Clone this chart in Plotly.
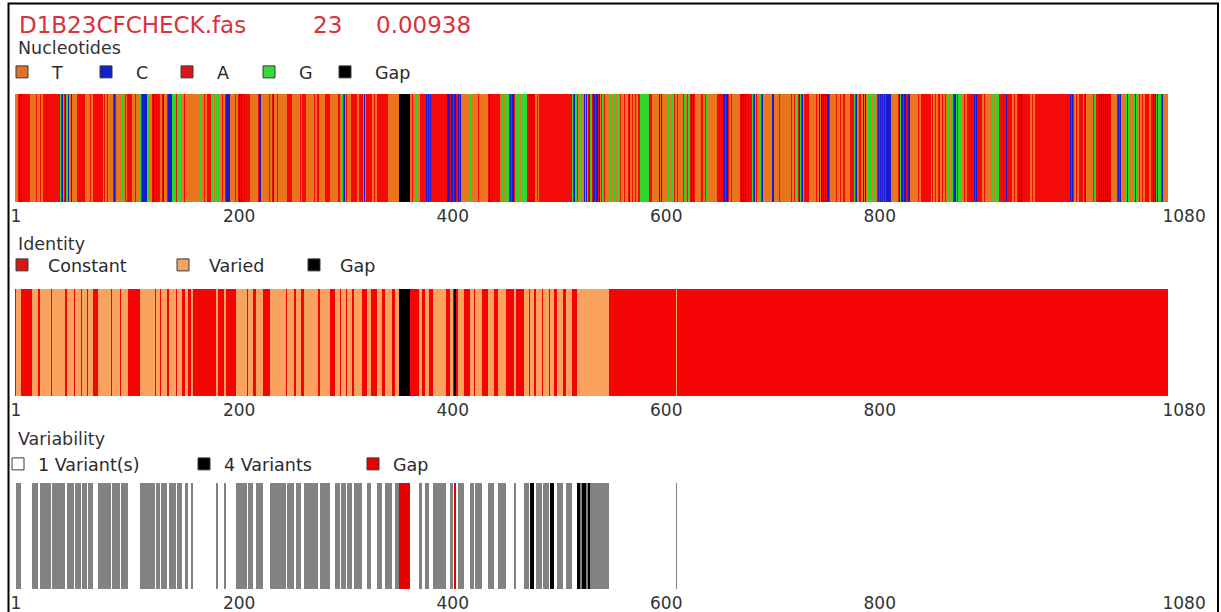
import plotly.graph_objects as go

# ---------------- data ----------------
N_SITES = 1080
file_name = "D1B23CFCHECK.fas"
n_sequences = "23"
diversity = "0.00938"

tick_vals = [1, 200, 400, 600, 800, 1080]
tick_text = ["1", "200", "400", "600", "800", "1080"]

# Nucleotide track: segment start site and the base motif repeated inside it
nuc_seg_start = [
    1, 4, 9, 15, 20, 27, 40, 43, 50, 54, 59, 64, 67, 69, 74, 79, 83, 88, 93, 96,
    102, 106, 111, 115, 118, 121, 125, 129, 132, 137, 139, 141, 144, 148, 151, 153, 157, 162, 168, 174,
    177, 182, 185, 193, 199, 202, 205, 210, 214, 221, 224, 228, 232, 237, 242, 244, 249, 256, 260, 266,
    270, 274, 279, 284, 286, 291, 296, 299, 302, 307, 312, 316, 321, 324, 327, 330, 335, 341, 345, 350,
    361, 371, 375, 380, 385, 391, 401, 406, 415, 419, 433, 438, 443, 446, 455, 460, 464, 469, 476, 481,
    488, 492, 523, 528, 533, 537, 542, 549, 555, 567, 574, 577, 586, 595, 598, 603, 608, 611, 617, 622,
    626, 633, 638, 643, 650, 659, 664, 670, 675, 680, 686, 691, 696, 699, 703, 710, 712, 715, 720, 726,
    733, 741, 745, 750, 753, 757, 764, 768, 773, 778, 783, 787, 790, 794, 799, 808, 817, 822, 827, 831,
    839, 845, 850, 855, 859, 864, 873, 879, 884, 888, 893, 898, 902, 907, 911, 916, 923, 928, 930, 935,
    940, 945, 952, 956, 967, 972, 977, 982, 988, 993, 998, 1001, 1004, 1010, 1015, 1028, 1033, 1037, 1042, 1045,
    1049, 1052, 1059, 1063, 1066, 1070, 1073, 1076,
]
nuc_seg_motif = [
    "T", "AC", "A", "T", "TAG", "A", "A", "GAC", "TC", "T", "A", "A", "T", "TTA", "A", "A", "TAG", "T", "AC", "TTG",
    "TTA", "A", "TTA", "T", "GAC", "C", "GGT", "AC", "A", "TTG", "AC", "TTA", "C", "G", "GAC", "G", "TTA", "T", "TTG", "GGT",
    "TAG", "A", "GGT", "TTA", "C", "T", "TTA", "AC", "A", "T", "TTG", "GAC", "T", "TTA", "AC", "TTA", "T", "A", "T", "TTA",
    "A", "T", "TTA", "A", "T", "A", "T", "TTG", "TTA", "GAC", "T", "A", "TTA", "A", "TC", "A", "TTA", "A", "A", "T",
    "-", "TTA", "TTG", "A", "AC", "A", "A", "CCA", "AC", "TTG", "TTA", "TG", "GAC", "A", "TTG", "TG", "AC", "GGT", "G", "AC",
    "TTA", "A", "GAC", "TTG", "TC", "GAC", "CCA", "TAG", "TTTG", "TAG", "GAC", "TTA", "GGGT", "A", "T", "TC", "T", "TTG", "TAG", "T",
    "TAG", "AC", "T", "TAG", "TG", "A", "CCA", "TTA", "T", "AC", "A", "GAC", "T", "GAC", "T", "C", "T", "TTA", "T", "TTA",
    "GAC", "A", "T", "TAG", "TC", "AC", "T", "TTA", "TAG", "T", "A", "GAC", "TTA", "TC", "GGT", "AC", "C", "TG", "GAC", "CCA",
    "TG", "TTA", "A", "A", "TAG", "TTA", "TTG", "GAC", "G", "TTA", "A", "AC", "A", "TTA", "TTG", "GGT", "A", "AC", "A", "TTA",
    "AC", "A", "TTA", "A", "A", "A", "A", "A", "AC", "TTA", "A", "GAC", "T", "TAG", "AC", "T", "AC", "T", "GC", "T",
    "GC", "TTA", "A", "TTA", "AC", "GC", "GAC", "T",
]
nuc_labels = ["T", "C", "A", "G", "Gap"]
nuc_symbols = ["T", "C", "A", "G", "-"]
nuc_colors = ["#E8741E", "#1A1AD0", "#F50A0A", "#2CD82C", "#000000"]
nuc_legend_colors = ["#E0702A", "#1020C8", "#D81818", "#36DC36", "#000000"]

# Variability track: runs of non-constant sites (first, last, number of variants; 0 = gap)
var_first = [2, 17, 24, 36, 50, 57, 64, 69, 79, 92, 100, 118, 133, 138, 145, 153, 160, 166, 189, 197,
             208, 219, 227, 240, 256, 264, 272, 287, 301, 306, 312, 319, 331, 340, 348, 357, 361, 379, 385, 393,
             408, 412, 416, 427, 432, 444, 453, 468, 478, 483, 489, 496, 502, 509, 517, 527, 530, 532, 536, 538,
             540, 620]
var_last = [6, 22, 34, 47, 55, 62, 67, 73, 90, 98, 106, 131, 136, 142, 151, 156, 162, 167, 190, 198,
            217, 223, 232, 254, 261, 268, 284, 295, 304, 310, 316, 325, 333, 344, 353, 360, 370, 381, 388, 404,
            410, 413, 421, 430, 437, 449, 460, 469, 481, 486, 494, 500, 505, 513, 522, 529, 531, 535, 537, 539,
            556, 620]
var_count = [2, 2, 2, 2, 2, 2, 2, 2, 2, 2, 2, 2, 2, 2, 2, 2, 2, 2, 2, 2,
             2, 2, 2, 2, 2, 2, 2, 2, 2, 2, 2, 2, 2, 2, 2, 2, 0, 2, 2, 2,
             2, 0, 2, 2, 2, 2, 2, 2, 2, 4, 2, 2, 4, 2, 2, 4, 2, 4, 2, 4,
             2, 2]

id_labels = ["Constant", "Varied", "Gap"]
id_colors = ["#F40404", "#FAA35E", "#000000"]
id_legend_colors = ["#D81818", "#F4A460", "#000000"]

var_labels = ["1 Variant(s)", "2 Variants", "4 Variants", "Gap"]
var_colors = ["#FFFFFF", "#828282", "#000000", "#E60000"]
var_in_legend = [True, False, True, True]

# ---------------- derive per-site tracks ----------------
sites = list(range(1, N_SITES + 1))

seq = []
for i, (s, m) in enumerate(zip(nuc_seg_start, nuc_seg_motif)):
    e = nuc_seg_start[i + 1] - 1 if i + 1 < len(nuc_seg_start) else N_SITES
    for k in range(e - s + 1):
        seq.append(m[k % len(m)])
nuc_codes = [nuc_symbols.index(b) for b in seq]

variants = [1] * N_SITES
for a, b, c in zip(var_first, var_last, var_count):
    for p in range(a, b + 1):
        variants[p - 1] = c
var_code_map = {1: 0, 2: 1, 4: 2, 0: 3}
var_codes = [var_code_map[v] for v in variants]
id_codes = [2 if v == 0 else (0 if v == 1 else 1) for v in variants]


def discrete_scale(colors):
    n = len(colors)
    cs = []
    for i, c in enumerate(colors):
        cs.append([i / n, c])
        cs.append([(i + 1) / n, c])
    return cs


# ---------------- layout helpers (pixel -> paper) ----------------
W, H = 1221, 612
FONT = "DejaVu Sans"


def fx(px):
    return px / W


def fy(py):
    return 1 - py / H


band_x = [fx(15), fx(1168)]
bands = [(94, 202), (289, 396), (483, 589)]

fig = go.Figure()

tracks = [
    (nuc_codes, nuc_colors),
    (id_codes, id_colors),
    (var_codes, var_colors),
]
for i, (codes, colors) in enumerate(tracks):
    sfx = "" if i == 0 else str(i + 1)
    fig.add_trace(go.Heatmap(
        x=sites, y=[0], z=[codes],
        colorscale=discrete_scale(colors), zmin=-0.5, zmax=len(colors) - 0.5,
        showscale=False, hoverinfo="skip", xaxis="x" + sfx, yaxis="y" + sfx,
    ))

# legend entries
nuc_lw = [19, 16, 17, 11, None]
for lab, col, w in zip(nuc_labels, nuc_legend_colors, nuc_lw):
    fig.add_trace(go.Scatter(
        x=[None], y=[None], mode="markers", name=lab, legend="legend",
        marker=dict(symbol="square", size=12, color=col, line=dict(color="#3a3a3a", width=1)),
        legendwidth=w, xaxis="x", yaxis="y",
    ))
id_lw = [104, 74, None]
for lab, col, w in zip(id_labels, id_legend_colors, id_lw):
    fig.add_trace(go.Scatter(
        x=[None], y=[None], mode="markers", name=lab, legend="legend2",
        marker=dict(symbol="square", size=12, color=col, line=dict(color="#3a3a3a", width=1)),
        legendwidth=w, xaxis="x2", yaxis="y2",
    ))
var_lw = {"1 Variant(s)": 141, "4 Variants": 124, "Gap": None}
for lab, col, show in zip(var_labels, var_colors, var_in_legend):
    if not show:
        continue
    fig.add_trace(go.Scatter(
        x=[None], y=[None], mode="markers", name=lab, legend="legend3",
        marker=dict(symbol="square", size=12, color=col, line=dict(color="#3a3a3a", width=1)),
        legendwidth=var_lw[lab], xaxis="x3", yaxis="y3",
    ))

axis_common = dict(
    range=[0.5, N_SITES + 0.5], tickmode="array", tickvals=tick_vals, ticktext=tick_text,
    ticks="", showgrid=False, zeroline=False, showline=False,
    ticklabelposition="outside right", ticklabelshift=-5, ticklabelstandoff=2,
    tickfont=dict(family=FONT, size=17, color="#333333"), fixedrange=True,
)
layout_axes = {}
for i, (t, b) in enumerate(bands):
    sfx = "" if i == 0 else str(i + 1)
    layout_axes["xaxis" + sfx] = dict(domain=band_x, anchor="y" + sfx, **axis_common)
    layout_axes["yaxis" + sfx] = dict(domain=[fy(b), fy(t)], anchor="x" + sfx, range=[-0.5, 0.5],
                                      visible=False, fixedrange=True)

leg_font = dict(family=FONT, size=17.5, color="#2a2a2a")


def legend_at(x_px, y_px, iw):
    return dict(orientation="h", x=fx(x_px), y=fy(y_px), xanchor="left", yanchor="middle",
                itemwidth=iw, font=leg_font, bgcolor="rgba(0,0,0,0)", borderwidth=0,
                traceorder="normal", itemclick=False, itemdoubleclick=False)


title_font = dict(family=FONT, size=23, color="#D8323C")
annotations = [
    dict(text=file_name, x=fx(17), y=fy(25), xref="paper", yref="paper", xanchor="left",
         yanchor="middle", showarrow=False, font=title_font),
    dict(text=n_sequences, x=fx(311), y=fy(25), xref="paper", yref="paper", xanchor="left",
         yanchor="middle", showarrow=False, font=title_font),
    dict(text=diversity, x=fx(374), y=fy(25), xref="paper", yref="paper", xanchor="left",
         yanchor="middle", showarrow=False, font=title_font),
]
for lab, yc in [("Nucleotides", 48), ("Identity", 244), ("Variability", 439)]:
    annotations.append(dict(text=lab, x=fx(16), y=fy(yc), xref="paper", yref="paper", xanchor="left",
                            yanchor="middle", showarrow=False,
                            font=dict(family=FONT, size=17.5, color="#333333")))

fig.update_layout(
    width=W, height=H, autosize=False,
    margin=dict(l=0, r=0, t=0, b=0, pad=0, autoexpand=False),
    paper_bgcolor="white", plot_bgcolor="white",
    showlegend=True,
    legend=legend_at(-8, 72, 50),
    legend2=legend_at(-4, 265, 42),
    legend3=legend_at(-2, 464, 30),
    annotations=annotations,
    shapes=[dict(type="rect", xref="paper", yref="paper", x0=fx(8.5), x1=fx(1218), y0=-0.05, y1=fy(3.5),
                 line=dict(color="black", width=2), fillcolor="rgba(0,0,0,0)", layer="above")],
    **layout_axes,
)

fig.write_html("out.html", config={"displayModeBar": False, "staticPlot": True},
               post_script="document.body.style.margin='0px';")
